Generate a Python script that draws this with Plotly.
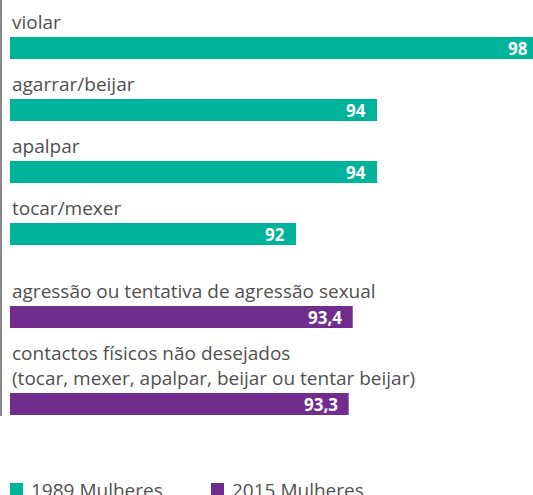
import plotly.graph_objects as go

# ---- data ----
categories = [
    "violar",
    "agarrar/beijar",
    "apalpar",
    "tocar/mexer",
    "agressão ou tentativa de agressão sexual",
    "contactos físicos não desejados<br>(tocar, mexer, apalpar, beijar ou tentar beijar)",
]
values = [98, 94, 94, 92, 93.4, 93.3]
series = ["1989 Mulheres"] * 4 + ["2015 Mulheres"] * 2
series_names = ["1989 Mulheres", "2015 Mulheres"]

# ---- style / layout ----
W, H = 533, 495
COLORS = {"1989 Mulheres": "#00B39B", "2015 Mulheres": "#702D8E"}
LABEL_COLOR = "#505050"
FONT = "Open Sans"
BAR_H = 22
LINE = 25
ROW_GAP = 15
GROUP_GAP = 21
TOP = 12
LEFT = 10
X_MIN, X_MAX = 84.94, 97.85
PX_PER_UNIT = (W - LEFT) / (X_MAX - X_MIN)

def fmt(v):
    return str(int(v)) if float(v).is_integer() else str(v).replace(".", ",")

# compute row positions (pixel-like units on a reversed y axis)
bar_tops = []
cursor = TOP
prev = None
for cat, s in zip(categories, series):
    n = len(cat.split("<br>"))
    if prev is not None:
        cursor += BAR_H + ROW_GAP
        if s != prev:
            cursor += GROUP_GAP
    cursor += n * LINE
    bar_tops.append(cursor)
    prev = s
centers = [t + BAR_H / 2 for t in bar_tops]

fig = go.Figure()
for name in series_names:
    idx = [i for i, s in enumerate(series) if s == name]
    fig.add_trace(go.Bar(
        x=[values[i] for i in idx],
        y=[centers[i] for i in idx],
        orientation="h",
        width=BAR_H,
        marker=dict(color=COLORS[name], line=dict(width=0)),
        name=name,
        showlegend=False,
        hoverinfo="skip",
    ))

annotations = []
for i, cat in enumerate(categories):
    lines = cat.split("<br>")
    n = len(lines)
    for k, line in enumerate(lines):
        baseline = bar_tops[i] - 9 - (n - 1 - k) * LINE
        annotations.append(dict(
            x=LEFT / W, xref="paper", y=baseline - 6, yref="y",
            text=line, showarrow=False, xanchor="left", yanchor="middle",
            font=dict(family=FONT, size=19, color=LABEL_COLOR),
        ))
    v = values[i]
    xv = min(v, X_MAX)
    annotations.append(dict(
        x=xv, xref="x", y=centers[i], yref="y",
        text="<b>" + fmt(v) + "</b>", showarrow=False,
        xanchor="right", yanchor="middle",
        xshift=-9 + (v - xv) * PX_PER_UNIT,
        font=dict(family=FONT, size=17, color="white"),
    ))

shapes = [dict(type="line", xref="paper", yref="y", x0=1 / W, x1=1 / W,
               y0=0, y1=416, line=dict(color="#888888", width=2))]

# legend drawn at bottom
legend_x = [10, 211]
for name, lx in zip(series_names, legend_x):
    shapes.append(dict(type="rect", xref="paper", yref="y",
                       x0=lx / W, x1=(lx + 13) / W, y0=483, y1=496,
                       fillcolor=COLORS[name], line=dict(width=0)))
    annotations.append(dict(
        x=(lx + 19) / W, xref="paper", y=490, yref="y",
        text=name, showarrow=False, xanchor="left", yanchor="middle",
        font=dict(family=FONT, size=19, color=LABEL_COLOR),
    ))

fig.update_layout(
    width=W, height=H,
    margin=dict(l=0, r=0, t=0, b=0),
    paper_bgcolor="white", plot_bgcolor="white",
    barmode="overlay",
    xaxis=dict(domain=[LEFT / W, 1], range=[X_MIN, X_MAX], visible=False,
               fixedrange=True),
    yaxis=dict(range=[H, 0], visible=False, fixedrange=True),
    annotations=annotations,
    shapes=shapes,
)

fig.write_html("out.html", config={"displayModeBar": False},
               post_script="document.body.style.margin='0';document.body.style.overflow='hidden';")
